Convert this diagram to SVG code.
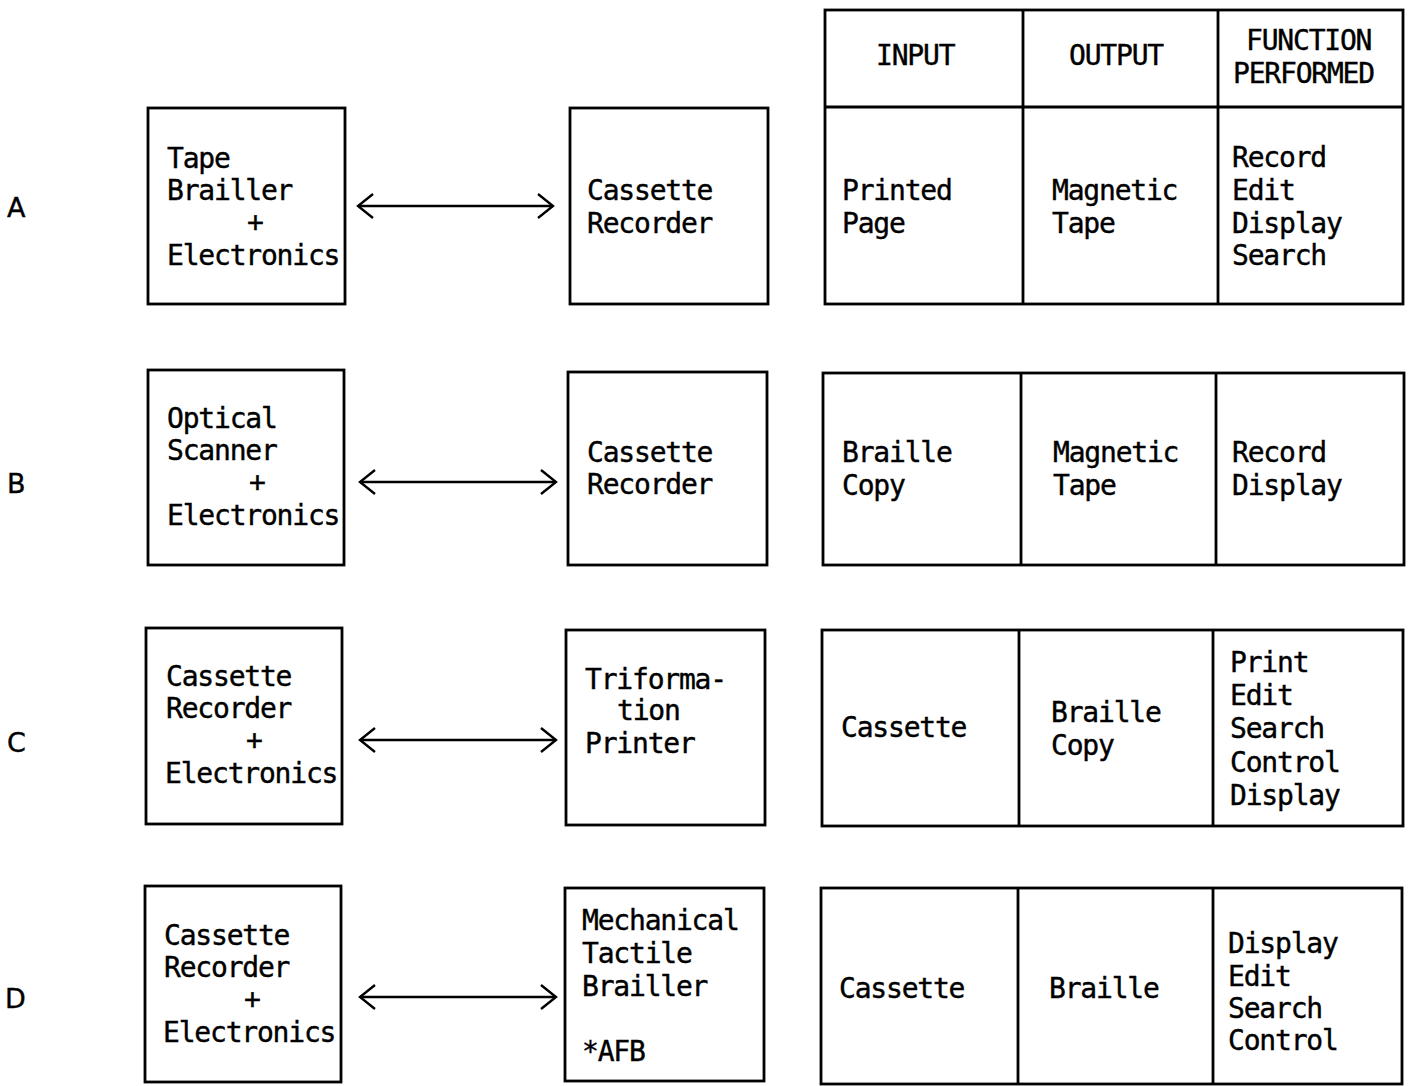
<svg xmlns="http://www.w3.org/2000/svg" width="1410" height="1086" viewBox="0 0 1410 1086">
<defs>
<style>
.b{fill:none;stroke:#000;stroke-width:2.8}
.c{fill:none;stroke:#000;stroke-width:2.4}
text{font-family:"DejaVu Sans Mono","Liberation Mono",monospace;font-size:28px;letter-spacing:-1.2px;fill:#000;stroke:#000;stroke-width:0.4}
.lbl{font-family:"DejaVu Sans","Liberation Sans",sans-serif;font-size:27px;letter-spacing:0}
</style>
<marker id="ah" viewBox="0 0 20 30" refX="18" refY="15" markerWidth="20" markerHeight="30" markerUnits="userSpaceOnUse" orient="auto-start-reverse">
<path d="M3,3 L18,15 L3,27" fill="none" stroke="#000" stroke-width="2.4"/>
</marker>
</defs>
<rect width="1410" height="1086" fill="#fff"/>

<g id="row-labels">
<text class="lbl" x="7" y="217">A</text>
<text class="lbl" x="7" y="493">B</text>
<text class="lbl" x="7" y="752">C</text>
<text class="lbl" x="5" y="1008">D</text>
</g>

<g id="connectors">
<line class="c" x1="358" y1="206" x2="553" y2="206" marker-start="url(#ah)" marker-end="url(#ah)"/>
<line class="c" x1="360" y1="482" x2="556" y2="482" marker-start="url(#ah)" marker-end="url(#ah)"/>
<line class="c" x1="360" y1="740" x2="556" y2="740" marker-start="url(#ah)" marker-end="url(#ah)"/>
<line class="c" x1="360" y1="997" x2="556" y2="997" marker-start="url(#ah)" marker-end="url(#ah)"/>
</g>

<!-- Row A -->
<g id="a-left">
<rect class="b" x="148" y="108" width="197" height="196"/>
<text x="167" y="168">Tape</text>
<text x="167" y="200">Brailler</text>
<text x="247" y="232">+</text>
<text x="167" y="265">Electronics</text>
</g>
<g id="a-mid">
<rect class="b" x="570" y="108" width="198" height="196"/>
<text x="587" y="200">Cassette</text>
<text x="587" y="233">Recorder</text>
</g>
<g id="a-table">
<rect class="b" x="825" y="10" width="578" height="294"/>
<line class="b" x1="825" y1="107" x2="1403" y2="107"/>
<line class="b" x1="1023" y1="10" x2="1023" y2="304"/>
<line class="b" x1="1218" y1="10" x2="1218" y2="304"/>
<text x="876" y="65">INPUT</text>
<text x="1069" y="65">OUTPUT</text>
<text x="1246" y="50">FUNCTION</text>
<text x="1233" y="83">PERFORMED</text>
<text x="842" y="200">Printed</text>
<text x="842" y="233">Page</text>
<text x="1052" y="200">Magnetic</text>
<text x="1052" y="233">Tape</text>
<text x="1232" y="167">Record</text>
<text x="1232" y="200">Edit</text>
<text x="1232" y="233">Display</text>
<text x="1232" y="265">Search</text>
</g>

<!-- Row B -->
<g id="b-left">
<rect class="b" x="148" y="370" width="196" height="195"/>
<text x="167" y="428">Optical</text>
<text x="167" y="460">Scanner</text>
<text x="249" y="492">+</text>
<text x="167" y="525">Electronics</text>
</g>
<g id="b-mid">
<rect class="b" x="568" y="372" width="199" height="193"/>
<text x="587" y="462">Cassette</text>
<text x="587" y="494">Recorder</text>
</g>
<g id="b-table">
<rect class="b" x="823" y="373" width="581" height="192"/>
<line class="b" x1="1021" y1="373" x2="1021" y2="565"/>
<line class="b" x1="1216" y1="373" x2="1216" y2="565"/>
<text x="842" y="462">Braille</text>
<text x="842" y="495">Copy</text>
<text x="1053" y="462">Magnetic</text>
<text x="1053" y="495">Tape</text>
<text x="1232" y="462">Record</text>
<text x="1232" y="495">Display</text>
</g>

<!-- Row C -->
<g id="c-left">
<rect class="b" x="146" y="628" width="196" height="196"/>
<text x="166" y="686">Cassette</text>
<text x="166" y="718">Recorder</text>
<text x="246" y="750">+</text>
<text x="165" y="783">Electronics</text>
</g>
<g id="c-mid">
<rect class="b" x="566" y="630" width="199" height="195"/>
<text x="585" y="689">Triforma-</text>
<text x="617" y="720">tion</text>
<text x="585" y="753">Printer</text>
</g>
<g id="c-table">
<rect class="b" x="822" y="630" width="581" height="196"/>
<line class="b" x1="1019" y1="630" x2="1019" y2="826"/>
<line class="b" x1="1213" y1="630" x2="1213" y2="826"/>
<text x="841" y="737">Cassette</text>
<text x="1051" y="722">Braille</text>
<text x="1051" y="755">Copy</text>
<text x="1230" y="672">Print</text>
<text x="1230" y="705">Edit</text>
<text x="1230" y="738">Search</text>
<text x="1230" y="772">Control</text>
<text x="1230" y="805">Display</text>
</g>

<!-- Row D -->
<g id="d-left">
<rect class="b" x="145" y="886" width="196" height="196"/>
<text x="164" y="945">Cassette</text>
<text x="164" y="977">Recorder</text>
<text x="244" y="1009">+</text>
<text x="163" y="1042">Electronics</text>
</g>
<g id="d-mid">
<rect class="b" x="565" y="888" width="199" height="193"/>
<text x="582" y="930">Mechanical</text>
<text x="582" y="963">Tactile</text>
<text x="582" y="996">Brailler</text>
<text x="582" y="1061">*AFB</text>
</g>
<g id="d-table">
<rect class="b" x="821" y="888" width="581" height="196"/>
<line class="b" x1="1018" y1="888" x2="1018" y2="1084"/>
<line class="b" x1="1213" y1="888" x2="1213" y2="1084"/>
<text x="839" y="998">Cassette</text>
<text x="1049" y="998">Braille</text>
<text x="1228" y="953">Display</text>
<text x="1228" y="986">Edit</text>
<text x="1228" y="1018">Search</text>
<text x="1228" y="1050">Control</text>
</g>
</svg>
